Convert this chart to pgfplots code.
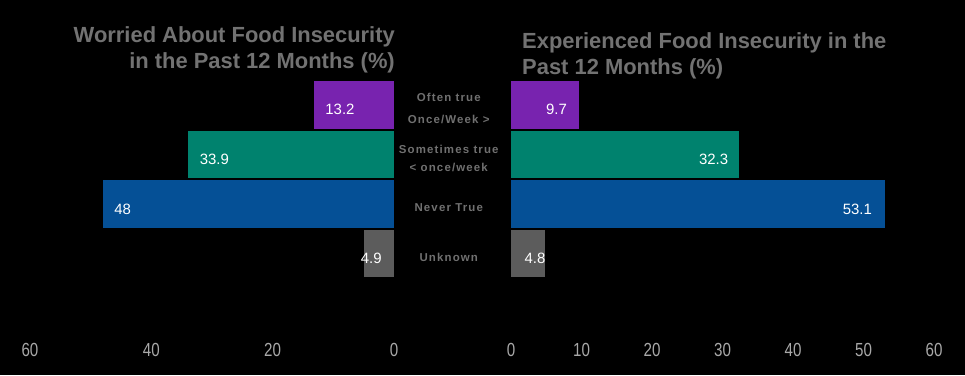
\documentclass[border=0pt]{standalone}
\usepackage{pgfplots}
\pgfplotsset{compat=1.18}
\usepackage{fontspec}
\usepackage{graphicx}
\setmainfont{Liberation Sans}
\newfontfamily\catfont[LetterSpace=10]{Liberation Sans Bold}
\definecolor{cpurple}{HTML}{7823AF}
\definecolor{cteal}{HTML}{00826E}
\definecolor{cblue}{HTML}{055096}
\definecolor{cgray}{HTML}{5C5C5C}
\definecolor{titlegray}{HTML}{727272}
\definecolor{catgray}{HTML}{707070}
\definecolor{tickgray}{HTML}{A8A8A8}
\pgfplotsset{
  myax/.style={
    scale only axis, height=253bp,
    ymin=-0.5, ymax=4.6, y dir=reverse,
    xmin=0, xmax=60,
    xbar, bar shift=0pt, bar width=47.5bp,
    axis line style={draw=none}, tick style={draw=none},
    axis x line*=bottom, axis y line*=left,
    /pgf/number format/assume math mode=true,
    xticklabel style={font=\fontsize{19}{19}\selectfont, text=tickgray, anchor=center, yshift=-17bp},
    xticklabel={\scalebox{0.8}[1]{\pgfmathprintnumber{\tick}}},
    nodes near coords,
    every node near coord/.append style={font=\fontsize{15}{18}\selectfont, text=white, yshift=-5bp},
    anchor=north west,
  }
}
\begin{document}
\begin{tikzpicture}[x=1bp,y=1bp]
\useasboundingbox (0,0) rectangle (965,375);
\fill[black] (0,0) rectangle (965,375);

% Left: Worried
\begin{axis}[myax, at={(30bp,295bp)}, width=364bp, x dir=reverse,
  xtick={0,20,40,60}, ytick=\empty]
\addplot[fill=cpurple, draw=none, nodes near coords style={anchor=west, xshift=8bp}] coordinates {(13.2,0)};
\addplot[fill=cteal, draw=none, nodes near coords style={anchor=west, xshift=8bp}] coordinates {(33.9,1)};
\addplot[fill=cblue, draw=none, nodes near coords style={anchor=west, xshift=8bp}] coordinates {(48,2)};
\addplot[fill=cgray, draw=none, nodes near coords style={anchor=west, xshift=-7bp}] coordinates {(4.9,3)};
\end{axis}

% Right: Experienced
\begin{axis}[myax, at={(511bp,295bp)}, width=423bp,
  xtick={0,10,20,30,40,50,60},
  ytick={0,1,2,3},
  yticklabels={{Often true\\[4bp]Once/Week >},{Sometimes true\\< once/week},{Never True},{Unknown}},
  yticklabel style={align=center, anchor=center, xshift=-58bp, yshift=-4bp, text=catgray,
    font=\catfont\fontsize{11.5}{18}\selectfont}]
\addplot[fill=cpurple, draw=none, nodes near coords style={anchor=east, xshift=-9bp}] coordinates {(9.7,0)};
\addplot[fill=cteal, draw=none, nodes near coords style={anchor=east, xshift=-7bp}] coordinates {(32.3,1)};
\addplot[fill=cblue, draw=none, nodes near coords style={anchor=east, xshift=-10bp}] coordinates {(53.1,2)};
\addplot[fill=cgray, draw=none, nodes near coords style={anchor=east, xshift=4bp}] coordinates {(4.8,3)};
\end{axis}

\node[anchor=north east, align=right, inner sep=0pt, text=titlegray,
  font=\bfseries\fontsize{22}{27}\selectfont] at (395,349)
  {Worried About Food Insecurity\\in the Past 12 Months (\%)};
\node[anchor=north west, align=left, inner sep=0pt, text=titlegray,
  font=\bfseries\fontsize{22}{27}\selectfont] at (522,343)
  {Experienced Food Insecurity in the\\Past 12 Months (\%)};
\end{tikzpicture}
\end{document}
